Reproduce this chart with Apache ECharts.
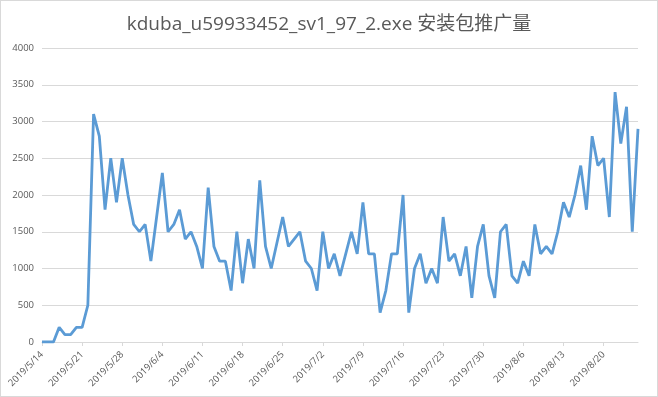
<!DOCTYPE html>
<html>
<head>
<meta charset="utf-8">
<script src="https://cdn.jsdelivr.net/npm/echarts@6/dist/echarts.min.js"></script>
<style>
    html, body { margin: 0; padding: 0; background: #fff; }
    #main { width: 656px; height: 395px; border: 1px solid #d9d9d9; }
</style>
</head>
<body>
<div id="main"></div>
<script type="text/javascript">
    var title = 'kduba_u59933452_sv1_97_2.exe 安装包推广量';

    // 2019/5/14 .. 2019/8/26, one point per day
    var mayDays = ['2019/5/14', '2019/5/15', '2019/5/16', '2019/5/17', '2019/5/18', '2019/5/19', '2019/5/20',
        '2019/5/21', '2019/5/22', '2019/5/23', '2019/5/24', '2019/5/25', '2019/5/26', '2019/5/27',
        '2019/5/28', '2019/5/29', '2019/5/30', '2019/5/31'];
    var mayValues = [0, 0, 0, 200, 100, 100, 200,
        200, 500, 3100, 2800, 1800, 2500, 1900,
        2500, 2000, 1600, 1500];

    var juneDays = ['2019/6/1', '2019/6/2', '2019/6/3', '2019/6/4', '2019/6/5', '2019/6/6', '2019/6/7',
        '2019/6/8', '2019/6/9', '2019/6/10', '2019/6/11', '2019/6/12', '2019/6/13', '2019/6/14',
        '2019/6/15', '2019/6/16', '2019/6/17', '2019/6/18', '2019/6/19', '2019/6/20', '2019/6/21',
        '2019/6/22', '2019/6/23', '2019/6/24', '2019/6/25', '2019/6/26', '2019/6/27', '2019/6/28',
        '2019/6/29', '2019/6/30'];
    var juneValues = [1600, 1100, 1700, 2300, 1500, 1600, 1800,
        1400, 1500, 1300, 1000, 2100, 1300, 1100,
        1100, 700, 1500, 800, 1400, 1000, 2200,
        1300, 1000, 1350, 1700, 1300, 1400, 1500,
        1100, 1000];

    var julyDays = ['2019/7/1', '2019/7/2', '2019/7/3', '2019/7/4', '2019/7/5', '2019/7/6', '2019/7/7',
        '2019/7/8', '2019/7/9', '2019/7/10', '2019/7/11', '2019/7/12', '2019/7/13', '2019/7/14',
        '2019/7/15', '2019/7/16', '2019/7/17', '2019/7/18', '2019/7/19', '2019/7/20', '2019/7/21',
        '2019/7/22', '2019/7/23', '2019/7/24', '2019/7/25', '2019/7/26', '2019/7/27', '2019/7/28',
        '2019/7/29', '2019/7/30', '2019/7/31'];
    var julyValues = [700, 1500, 1000, 1200, 900, 1200, 1500,
        1200, 1900, 1200, 1200, 400, 700, 1200,
        1200, 2000, 400, 1000, 1200, 800, 1000,
        800, 1700, 1100, 1200, 900, 1300, 600,
        1300, 1600, 900];

    var augustDays = ['2019/8/1', '2019/8/2', '2019/8/3', '2019/8/4', '2019/8/5', '2019/8/6', '2019/8/7',
        '2019/8/8', '2019/8/9', '2019/8/10', '2019/8/11', '2019/8/12', '2019/8/13', '2019/8/14',
        '2019/8/15', '2019/8/16', '2019/8/17', '2019/8/18', '2019/8/19', '2019/8/20', '2019/8/21',
        '2019/8/22', '2019/8/23', '2019/8/24', '2019/8/25', '2019/8/26'];
    var augustValues = [600, 1500, 1600, 900, 800, 1100, 900,
        1600, 1200, 1300, 1200, 1500, 1900, 1700,
        2000, 2400, 1800, 2800, 2400, 2500, 1700,
        3400, 2700, 3200, 1500, 2900];

    var days = mayDays.concat(juneDays, julyDays, augustDays);
    var values = mayValues.concat(juneValues, julyValues, augustValues);

    var chart = echarts.init(document.getElementById('main'));
    var textColor = '#595959';
    var lineColor = '#d9d9d9';

    chart.setOption({
        animation: false,
        title: {
            text: title,
            left: 'center',
            top: 9,
            textStyle: {
                color: textColor,
                fontSize: 19,
                fontWeight: 'normal',
                fontFamily: "'Open Sans', 'Noto Sans CJK SC', sans-serif"
            }
        },
        grid: { left: 41, right: 19, top: 47, bottom: 54 },
        xAxis: {
            type: 'category',
            data: days,
            boundaryGap: false,
            axisLine: { lineStyle: { color: lineColor } },
            axisTick: { interval: 6, length: 4, lineStyle: { color: lineColor } },
            axisLabel: {
                interval: 6,
                rotate: 45,
                color: textColor,
                fontSize: 9.5,
                margin: 11,
                fontFamily: "'Open Sans', sans-serif"
            },
            splitLine: { show: false }
        },
        yAxis: {
            type: 'value',
            min: 0,
            max: 4000,
            interval: 500,
            axisLine: { show: false },
            axisTick: { show: false },
            axisLabel: {
                color: textColor,
                fontSize: 9.5,
                margin: 8,
                fontFamily: "'Open Sans', sans-serif",
                formatter: function (v) { return String(v); }
            },
            splitLine: { lineStyle: { color: lineColor } }
        },
        series: [{
            type: 'line',
            data: values,
            showSymbol: false,
            lineStyle: { color: '#5b9bd5', width: 2.8 }
        }]
    });
</script>
</body>
</html>
